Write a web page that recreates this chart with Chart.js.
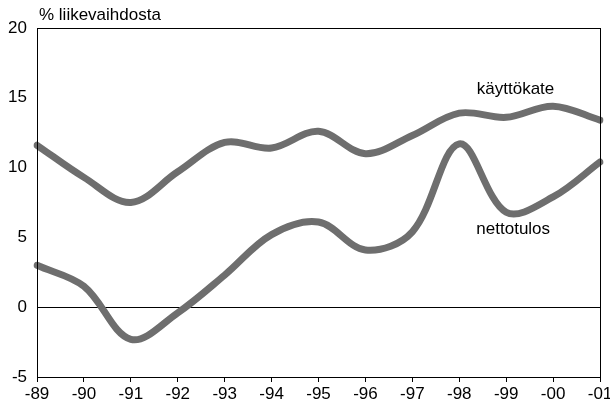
<!DOCTYPE html>
<html><head><meta charset="utf-8">
<script src="https://cdn.jsdelivr.net/npm/chart.js@4/dist/chart.umd.min.js"></script>
<style>html,body{margin:0;padding:0;background:#fff;overflow:hidden}#wrap{width:610px;height:409px;position:relative}</style>
</head><body><div id="wrap"><canvas id="c"></canvas></div>
<script>
const years = ['-89','-90','-91','-92','-93','-94','-95','-96','-97','-98','-99','-00','-01'];
const kayttokate = [11.6, 9.3, 7.5, 9.7, 11.8, 11.4, 12.6, 11.0, 12.3, 13.9, 13.6, 14.4, 13.4];
const nettotulos = [3.0, 1.5, -2.3, -0.4, 2.3, 5.2, 6.1, 4.1, 5.4, 11.7, 6.8, 7.9, 10.4];
const yTicks = [-5, 0, 5, 10, 15, 20];
const seriesNames = ['käyttökate', 'nettotulos'];
const yTitle = '% liikevaihdosta';
// label anchors in data units: [category index, value]
const labelAnchors = [[10.2, 15.6], [10.15, 5.6]];

const FONT = "'Liberation Sans', Arial, sans-serif";
const FS = 17;
const LINE = '#6e6e6e';

const extras = {
  id: 'extras',
  afterDatasetsDraw(chart) {
    const {ctx, chartArea: a, scales: {x, y}} = chart;
    ctx.save();
    ctx.strokeStyle = '#000';
    ctx.lineWidth = 1;
    ctx.strokeRect(Math.round(a.left) + 0.5, Math.round(a.top) + 0.5, Math.round(a.right - a.left), Math.round(a.bottom - a.top));
    ctx.fillStyle = '#000';
    ctx.font = FS + 'px ' + FONT;
    ctx.textBaseline = 'middle';
    ctx.textAlign = 'left';
    ctx.fillText(yTitle, a.left + 2, a.top - 13);
    ctx.textAlign = 'center';
    seriesNames.forEach((n, i) => {
      ctx.fillText(n, x.getPixelForValue(labelAnchors[i][0]), y.getPixelForValue(labelAnchors[i][1]));
    });
    ctx.restore();
  }
};

new Chart(document.getElementById('c'), {
  type: 'line',
  data: {
    labels: years,
    datasets: [
      {label: seriesNames[0], data: kayttokate, borderColor: LINE, borderWidth: 7, pointRadius: 0, tension: 0.35, fill: false, borderCapStyle: 'round', borderJoinStyle: 'round'},
      {label: seriesNames[1], data: nettotulos, borderColor: LINE, borderWidth: 7, pointRadius: 0, tension: 0.35, fill: false, borderCapStyle: 'round', borderJoinStyle: 'round'}
    ]
  },
  options: {
    responsive: true,
    maintainAspectRatio: false,
    animation: false,
    events: [],
    layout: {padding: {top: 28, right: 10, bottom: 0, left: 0}},
    plugins: {legend: {display: false}, tooltip: {enabled: false}, title: {display: false}},
    scales: {
      x: {
        type: 'category',
        offset: false,
        grid: {drawOnChartArea: false, drawTicks: true, tickLength: 5, color: '#000'},
        border: {display: true, color: '#000', width: 1},
        ticks: {color: '#000', font: {family: FONT, size: FS}, padding: 2, maxRotation: 0, autoSkip: false},
        afterFit: s => { s.height = 32; s.paddingRight = 0; }
      },
      y: {
        min: -5, max: 20,
        afterBuildTicks: s => { s.ticks = yTicks.map(v => ({value: v})); },
        grid: {drawTicks: false, color: c => (c.tick && c.tick.value === 0) ? '#000' : 'rgba(0,0,0,0)', lineWidth: 1},
        border: {display: true, color: '#000', width: 1},
        ticks: {color: '#000', font: {family: FONT, size: FS}, padding: 10},
        afterFit: s => { s.width = 37; }
      }
    }
  },
  plugins: [extras]
});
</script>
</body></html>
